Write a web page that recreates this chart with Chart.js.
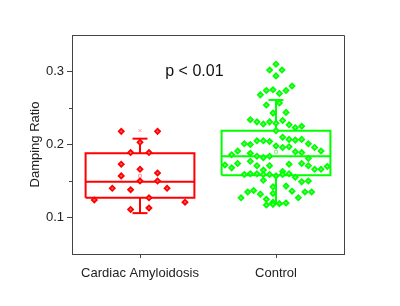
<!DOCTYPE html>
<html lang="en">
<head>
    <meta charset="UTF-8">
    <script src="https://cdn.jsdelivr.net/npm/chart.js"></script>
    <style>
        body { margin: 0; padding: 0; background: #ffffff; }
        #wrap { width: 400px; height: 306px; }
    </style>
</head>
<body>
    <div id="wrap"><canvas id="chart" width="400" height="306"></canvas></div>
    <script>
        // groups on the x axis
        const groups = ['Cardiac Amyloidosis', 'Control'];
        const yTicks = [0.1, 0.2, 0.3];
        const yMinorTicks = [0.15, 0.25];

        // box statistics
        const q1 = [0.127, 0.158];
        const median = [0.149, 0.184];
        const q3 = [0.188, 0.219];
        const whiskerLow = [0.106, 0.119];
        const whiskerHigh = [0.208, 0.261];
        const means = [0.157, 0.190];
        const maxMarks = [0.219, 0.310];

        // individual subjects: horizontal jitter (in group units) and damping ratio
        const amyloidJitter = [-0.138, 0.129, 0.0, -0.069, 0.066, -0.138, 0.0, -0.138, 0.129, 0.0,
            0.129, -0.204, -0.069, 0.199, -0.336, 0.066, 0.331, -0.069, 0.066];
        const amyloidValues = [0.218, 0.218, 0.203, 0.189, 0.189, 0.173, 0.166, 0.157, 0.161, 0.150,
            0.150, 0.140, 0.138, 0.140, 0.124, 0.127, 0.121, 0.111, 0.113];

        const controlJitter = [0, -0.047, 0.044, 0, -0.115, -0.071, -0.022, 0.025, 0.074, 0.118,
            -0.071, 0.025, -0.022, 0.074, -0.189, -0.140, -0.093, -0.047, 0.049, 0.096,
            0.142, 0.189, 0, 0,
            -0.233, -0.189, -0.140, -0.093, -0.047, 0, 0.049, 0.096, 0.142, 0.189,
            0.238, 0.284, 0.331, -0.326, -0.282, -0.189, -0.140, -0.093, -0.047, 0.049,
            0.096, 0.142, 0.189, 0.238,
            -0.375, -0.326, -0.282, -0.189, -0.140, -0.093, -0.047, 0.049, 0.096, 0.189,
            0.238, 0.284, 0.331, 0.377,
            -0.233, -0.189, -0.140, -0.093, -0.047, 0, 0.049, 0.096,
            -0.093, 0.142, 0.189, 0.238, -0.022, 0.074,
            -0.257, -0.208, -0.164, -0.115, -0.022, 0.118, 0.164, 0.213, 0.262,
            -0.071, -0.022, 0.025, 0.074, -0.071, -0.022];
        const controlValues = [0.310, 0.302, 0.302, 0.294, 0.268, 0.274, 0.275, 0.270, 0.274, 0.280,
            0.254, 0.257, 0.243, 0.244, 0.234, 0.231, 0.228, 0.231, 0.233, 0.227,
            0.223, 0.225, 0.219, 0.229,
            0.201, 0.200, 0.205, 0.205, 0.204, 0.198, 0.210, 0.207, 0.206, 0.207,
            0.201, 0.196, 0.191, 0.186, 0.191, 0.188, 0.184, 0.182, 0.184, 0.196,
            0.197, 0.190, 0.189, 0.181,
            0.172, 0.168, 0.174, 0.177, 0.171, 0.165, 0.171, 0.163, 0.173, 0.174,
            0.171, 0.166, 0.166, 0.170,
            0.159, 0.160, 0.160, 0.159, 0.159, 0.157, 0.159, 0.160,
            0.151, 0.155, 0.149, 0.150, 0.142, 0.143,
            0.127, 0.135, 0.137, 0.132, 0.133, 0.136, 0.127, 0.135, 0.135,
            0.125, 0.121, 0.119, 0.120, 0.117, 0.118];

        const colors = ['#ff0000', '#00ff00'];
        const fills = ['#ff7070', '#80ff80'];
        const faint = ['#ff9a9a', '#88ee88'];
        const boxHalf = 0.4;
        const capHalf = 0.055;

        Chart.defaults.font.family = '"Liberation Sans", Arial, sans-serif';
        Chart.defaults.font.size = 13;
        Chart.defaults.color = '#222';

        function pts(xs, ys, centre) {
            return xs.map((dx, i) => ({ x: centre + dx, y: ys[i] }));
        }
        function line(data, color) {
            return {
                type: 'line', data: data, borderColor: color, borderWidth: 2,
                pointRadius: 0, fill: false, tension: 0
            };
        }

        const datasets = [
            {
                type: 'scatter', data: pts(amyloidJitter, amyloidValues, 1),
                pointStyle: 'rectRot', pointRadius: 2.5,
                backgroundColor: fills[0], borderColor: colors[0], borderWidth: 1.8
            },
            {
                type: 'scatter', data: pts(controlJitter, controlValues, 2),
                pointStyle: 'rectRot', pointRadius: 2.5,
                backgroundColor: fills[1], borderColor: colors[1], borderWidth: 1.8
            }
        ];

        groups.forEach((g, i) => {
            const c = i + 1;
            datasets.push(line([
                { x: c - boxHalf, y: q1[i] }, { x: c + boxHalf, y: q1[i] },
                { x: c + boxHalf, y: q3[i] }, { x: c - boxHalf, y: q3[i] },
                { x: c - boxHalf, y: q1[i] }
            ], colors[i]));
            datasets.push(line([{ x: c - boxHalf, y: median[i] }, { x: c + boxHalf, y: median[i] }], colors[i]));
            datasets.push(line([{ x: c, y: q3[i] }, { x: c, y: whiskerHigh[i] }], colors[i]));
            datasets.push(line([{ x: c, y: q1[i] }, { x: c, y: whiskerLow[i] }], colors[i]));
            datasets.push(line([{ x: c - capHalf, y: whiskerHigh[i] }, { x: c + capHalf, y: whiskerHigh[i] }], colors[i]));
            datasets.push(line([{ x: c - capHalf, y: whiskerLow[i] }, { x: c + capHalf, y: whiskerLow[i] }], colors[i]));
            datasets.push({
                type: 'scatter', data: [{ x: c, y: means[i] }],
                pointStyle: 'rect', pointRadius: 2, backgroundColor: 'rgba(0,0,0,0)',
                borderColor: faint[i], borderWidth: 1
            });
            datasets.push({
                type: 'scatter', data: [{ x: c, y: maxMarks[i] }],
                pointStyle: 'crossRot', pointRadius: 2, borderColor: faint[i], borderWidth: 1
            });
        });

        // frame, minor ticks and p value label
        const extras = {
            id: 'extras',
            afterDraw(chart) {
                const { ctx, chartArea: a, scales } = chart;
                ctx.save();
                ctx.strokeStyle = '#444';
                ctx.lineWidth = 1;
                ctx.beginPath();
                ctx.moveTo(a.left, a.top + 0.5);
                ctx.lineTo(a.right + 0.5, a.top + 0.5);
                ctx.lineTo(a.right + 0.5, a.bottom);
                ctx.stroke();
                yMinorTicks.forEach(v => {
                    const y = Math.round(scales.y.getPixelForValue(v)) + 0.5;
                    ctx.beginPath();
                    ctx.moveTo(a.left - 3, y);
                    ctx.lineTo(a.left, y);
                    ctx.stroke();
                });
                ctx.fillStyle = '#111';
                ctx.font = '16px "Liberation Sans", Arial, sans-serif';
                ctx.textAlign = 'center';
                ctx.textBaseline = 'middle';
                ctx.fillText('p < 0.01', scales.x.getPixelForValue(1.4), scales.y.getPixelForValue(0.3));
                ctx.restore();
            }
        };

        new Chart(document.getElementById('chart'), {
            type: 'scatter',
            data: { datasets: datasets },
            options: {
                responsive: false,
                animation: false,
                layout: { padding: { top: 35, right: 56, left: 0, bottom: 0 } },
                plugins: { legend: { display: false }, tooltip: { enabled: false } },
                scales: {
                    x: {
                        type: 'linear', min: 0.5, max: 2.5,
                        afterBuildTicks: s => { s.ticks = [{ value: 1 }, { value: 2 }]; },
                        afterFit: s => { s.height = 52; },
                        ticks: { callback: v => groups[v - 1], padding: 8, color: '#222', maxRotation: 0 },
                        grid: { drawOnChartArea: false, tickLength: 4, color: '#444' },
                        border: { color: '#444' }
                    },
                    y: {
                        type: 'linear', min: 0.05, max: 0.35,
                        afterBuildTicks: s => { s.ticks = yTicks.map(v => ({ value: v })); },
                        afterFit: s => { s.width = 72; },
                        ticks: { callback: v => v.toFixed(1), padding: 3, color: '#222' },
                        grid: { drawOnChartArea: false, tickLength: 5, color: '#444' },
                        border: { color: '#444' },
                        title: { display: true, text: 'Damping Ratio', padding: { top: 28 }, color: '#222' }
                    }
                }
            },
            plugins: [extras]
        });
    </script>
</body>
</html>
